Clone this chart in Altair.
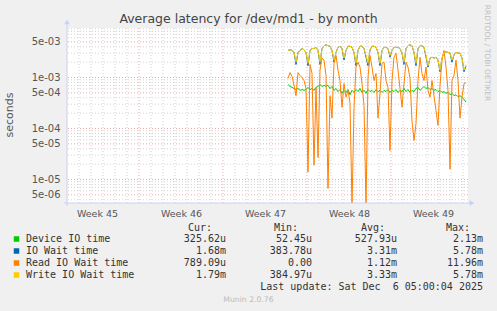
import altair as alt
import pandas as pd

# ---------------- data ----------------
# x = days since Monday 3 Nov 2025 (start of ISO week 45); samples every 4 hours
week_labels = ["Week 45", "Week 46", "Week 47", "Week 48", "Week 49"]
week_centers = [3.5, 10.5, 17.5, 24.5, 31.5]
week_bounds = [7, 14, 21, 28]
day_lines = [2, 3, 4, 5, 6, 8, 9, 10, 11, 12, 13, 15, 16, 17, 18, 19, 20,
             22, 23, 24, 25, 26, 27, 29, 30, 31, 32, 33, 34]
y_ticks = [5e-3, 1e-3, 5e-4, 1e-4, 5e-5, 1e-5, 5e-6]
y_minor = [9e-3, 8e-3, 7e-3, 6e-3, 4e-3, 3e-3, 2e-3,
           9e-4, 8e-4, 7e-4, 6e-4, 4e-4, 3e-4, 2e-4,
           9e-5, 8e-5, 7e-5, 6e-5, 4e-5, 3e-5, 2e-5,
           9e-6, 8e-6, 7e-6, 6e-6, 4e-6]
start_day = 19.42
step_days = 1 / 6

device = [7.3e-4, 6.7e-4, 6.4e-4, 6.1e-4, 5.8e-4, 6.1e-4, 5.6e-4, 5.8e-4, 5.6e-4, 5.8e-4,
          6.4e-4, 5.8e-4, 6.1e-4, 5.6e-4, 6.4e-4, 6.7e-4, 7.3e-4, 6.7e-4, 7.0e-4, 6.7e-4,
          7.0e-4, 6.1e-4, 6.7e-4, 5.6e-4, 6.1e-4, 5.3e-4, 5.8e-4, 4.9e-4, 5.6e-4, 5.1e-4,
          5.8e-4, 4.6e-4, 5.6e-4, 5.1e-4, 5.8e-4, 5.3e-4, 6.1e-4, 5.1e-4, 5.6e-4, 4.9e-4,
          5.8e-4, 5.3e-4, 5.6e-4, 5.1e-4, 5.8e-4, 5.3e-4, 5.6e-4, 5.1e-4, 5.6e-4, 5.3e-4,
          5.8e-4, 5.1e-4, 5.6e-4, 5.3e-4, 5.8e-4, 5.1e-4, 5.6e-4, 5.3e-4, 6.1e-4, 5.3e-4,
          5.8e-4, 5.1e-4, 5.6e-4, 5.3e-4, 6.1e-4, 6.4e-4, 5.6e-4, 6.1e-4, 6.7e-4, 6.1e-4,
          6.4e-4, 5.8e-4, 6.1e-4, 5.6e-4, 5.8e-4, 5.3e-4, 5.6e-4, 5.1e-4, 5.3e-4, 4.9e-4,
          5.1e-4, 4.6e-4, 4.9e-4, 4.4e-4, 4.6e-4, 4.2e-4, 4.4e-4, 4.1e-4, 3.7e-4, 3.3e-4]

iowait = [3.4e-3, 3.5e-3, 3.4e-3, 3.1e-3, 1.8e-3, 3.1e-3, 3.4e-3, 3.7e-3, 3.5e-3, 3.1e-3,
          1.7e-3, 3.4e-3, 3.7e-3, 3.7e-3, 3.9e-3, 3.4e-3, 1.8e-3, 3.7e-3, 4.2e-3, 4.4e-3,
          4.2e-3, 4.1e-3, 3.4e-3, 2.0e-3, 3.1e-3, 3.9e-3, 4.1e-3, 3.7e-3, 2.2e-3, 3.4e-3,
          4.1e-3, 4.1e-3, 3.9e-3, 3.1e-3, 1.7e-3, 3.4e-3, 4.1e-3, 4.1e-3, 3.7e-3, 2.5e-3,
          1.7e-3, 3.5e-3, 4.1e-3, 4.1e-3, 3.9e-3, 3.1e-3, 1.7e-3, 3.4e-3, 3.9e-3, 3.9e-3,
          3.7e-3, 2.5e-3, 3.4e-3, 3.9e-3, 3.9e-3, 3.9e-3, 3.7e-3, 3.0e-3, 1.8e-3, 3.7e-3,
          4.2e-3, 4.4e-3, 4.2e-3, 3.1e-3, 1.7e-3, 3.7e-3, 4.2e-3, 4.2e-3, 3.9e-3, 2.5e-3,
          1.6e-3, 2.4e-3, 2.5e-3, 2.4e-3, 2.5e-3, 2.2e-3, 1.3e-3, 2.4e-3, 3.1e-3, 3.2e-3,
          3.1e-3, 3.0e-3, 2.0e-3, 2.8e-3, 3.1e-3, 3.0e-3, 3.0e-3, 2.4e-3, 1.3e-3, 1.68e-3]

read = [9.6e-4, 1.25e-3, 1.05e-3, 7.0e-4, 4.4e-4, 1.25e-3, 1.1e-3, 1.0e-3, 8.7e-4, 6.1e-4,
        1.4e-5, 1.8e-3, 1.2e-3, 1.9e-5, 6.4e-4, 2.7e-5, 1.4e-3, 2.4e-3, 2.2e-3, 1.1e-3,
        6.7e-6, 4.4e-4, 1.6e-4, 1.9e-3, 2.7e-3, 1.4e-3, 8.7e-4, 2.6e-4, 7.6e-4, 4.1e-4,
        5.6e-4, 3.2e-4, 3.0e-6, 2.6e-4, 1.6e-3, 2.0e-3, 1.6e-3, 7.6e-4, 2.8e-4, 3.0e-6,
        1.0e-3, 2.7e-3, 1.6e-3, 8.7e-4, 1.2e-3, 1.6e-4, 4.9e-4, 1.9e-3, 2.0e-3, 8.7e-4,
        6.4e-4, 3.7e-5, 8.7e-4, 2.5e-3, 3.0e-3, 1.4e-3, 6.1e-4, 2.6e-4, 7.6e-4, 2.0e-3,
        1.6e-3, 9.6e-4, 1.4e-4, 5.8e-5, 1.25e-4, 8.7e-4, 2.5e-3, 1.2e-3, 8.7e-4, 1.6e-3,
        5.6e-4, 4.1e-4, 8.7e-4, 4.4e-4, 2.25e-4, 1.15e-4, 7.0e-4, 2.2e-3, 3.4e-3, 1.6e-3,
        5.6e-4, 1.6e-5, 8.7e-4, 1.1e-3, 2.2e-3, 8.7e-4, 1.6e-4, 4.1e-4, 7.6e-4, 7.9e-4]

write = [3.4e-3, 3.5e-3, 3.4e-3, 3.1e-3, 2.0e-3, 3.1e-3, 3.4e-3, 3.7e-3, 3.5e-3, 3.1e-3,
         1.9e-3, 3.4e-3, 3.7e-3, 3.7e-3, 3.9e-3, 3.4e-3, 2.0e-3, 3.7e-3, 4.2e-3, 4.4e-3,
         4.2e-3, 4.1e-3, 3.4e-3, 2.2e-3, 3.1e-3, 3.9e-3, 4.1e-3, 3.7e-3, 2.4e-3, 3.4e-3,
         4.1e-3, 4.1e-3, 3.9e-3, 3.1e-3, 1.9e-3, 3.4e-3, 4.1e-3, 4.1e-3, 3.7e-3, 2.7e-3,
         1.9e-3, 3.5e-3, 4.1e-3, 4.1e-3, 3.9e-3, 3.1e-3, 1.9e-3, 3.4e-3, 3.9e-3, 3.9e-3,
         3.7e-3, 2.7e-3, 3.4e-3, 3.9e-3, 3.9e-3, 3.9e-3, 3.7e-3, 3.0e-3, 2.0e-3, 3.7e-3,
         4.2e-3, 4.4e-3, 4.2e-3, 3.1e-3, 1.9e-3, 3.7e-3, 4.2e-3, 4.2e-3, 3.9e-3, 2.7e-3,
         1.7e-3, 2.4e-3, 2.5e-3, 2.4e-3, 2.5e-3, 2.2e-3, 1.4e-3, 2.4e-3, 3.1e-3, 3.2e-3,
         3.1e-3, 3.0e-3, 2.2e-3, 2.8e-3, 3.1e-3, 3.0e-3, 3.0e-3, 2.4e-3, 1.4e-3, 1.8e-3]

series_names = ["Device IO time", "IO Wait time", "Read IO Wait time", "Write IO Wait time"]
series_colors = ["#00CC00", "#0066B3", "#FF8000", "#FFCC00"]
cur_vals = ["325.62u", "1.68m", "789.09u", "1.79m"]
min_vals = ["52.45u", "383.78u", "0.00", "384.97u"]
avg_vals = ["527.93u", "3.31m", "1.12m", "3.33m"]
max_vals = ["2.13m", "5.78m", "11.96m", "5.78m"]

title_text = "Average latency for /dev/md1 - by month"
y_title = "seconds"
last_update = "Last update: Sat Dec\u00a0 6 05:00:04 2025"
footer = "Munin 2.0.76"
side_text = "RRDTOOL / TOBI OETIKER"

# ---------------- layout ----------------
W, H = 401, 175
X_DOM = [1.0, 34.42]
Y_DOM = [3.46e-6, 9.35e-3]
AXIS_COL = "#C8D0F4"
MINOR_COL = "#D4D4D4"
MAJOR_COL = "#EBA8A8"
TXT = "#555555"

n = len(device)
df = pd.DataFrame({
    "t": [start_day + i * step_days for i in range(n)],
    "device": device, "iowait": iowait, "read": read, "write": write,
})

x_axis = alt.Axis(values=week_centers,
                  labelExpr="%s[indexof(%s, datum.value)]" % (str(week_labels), str(week_centers)),
                  title=None, grid=False, domain=False, ticks=False, tickSize=0,
                  labelPadding=5, labelFont="DejaVu Sans", labelFontSize=9.5,
                  labelColor=TXT)
y_axis = alt.Axis(values=y_ticks,
                  labelExpr="replace(format(datum.value, '.0e'), 'e-', 'e-0')",
                  title=None, grid=False, domain=False, ticks=False, tickSize=0,
                  labelPadding=7, labelFont="DejaVu Sans", labelFontSize=10,
                  labelColor=TXT)
x_scale = alt.Scale(domain=X_DOM, nice=False, zero=False)
y_scale = alt.Scale(type="log", domain=Y_DOM, nice=False)


def xe(f):
    return alt.X(f"{f}:Q", scale=x_scale, axis=x_axis)


def ye(f):
    return alt.Y(f"{f}:Q", scale=y_scale, axis=y_axis)


layers = []
# grid
layers.append(alt.Chart(pd.DataFrame({"v": y_minor})).mark_rule(
    color=MINOR_COL, strokeDash=[1, 2], strokeWidth=1).encode(y=ye("v")))
layers.append(alt.Chart(pd.DataFrame({"t": day_lines})).mark_rule(
    color=MINOR_COL, strokeDash=[1, 2], strokeWidth=1).encode(x=xe("t")))
layers.append(alt.Chart(pd.DataFrame({"v": y_ticks})).mark_rule(
    color=MAJOR_COL, strokeDash=[1, 2], strokeWidth=1).encode(y=ye("v")))
layers.append(alt.Chart(pd.DataFrame({"t": week_bounds})).mark_rule(
    color=MAJOR_COL, strokeDash=[1, 2], strokeWidth=1).encode(x=xe("t")))

# series (drawn in munin order)
for col, color in zip(["device", "iowait", "read", "write"], series_colors):
    layers.append(alt.Chart(df).mark_line(color=color, strokeWidth=1, clip=True)
                  .encode(x=xe("t"), y=ye(col)))

one = pd.DataFrame({"a": [0]})
# axis lines + arrows
layers.append(alt.Chart(one).mark_rule(color=AXIS_COL, strokeWidth=1).encode(
    x=alt.value(0), y=alt.value(-4), y2=alt.value(H + 3)))
layers.append(alt.Chart(one).mark_rule(color=AXIS_COL, strokeWidth=1).encode(
    x=alt.value(-3), x2=alt.value(W + 3), y=alt.value(H)))
layers.append(alt.Chart(one).mark_point(shape="triangle-up", filled=True, color=AXIS_COL,
                                        size=30, opacity=1).encode(
    x=alt.value(0), y=alt.value(-6)))
layers.append(alt.Chart(one).mark_point(shape="triangle-right", filled=True, color=AXIS_COL,
                                        size=30, opacity=1).encode(
    x=alt.value(W + 4), y=alt.value(H)))


def txt(s, x, y, size=10, font="DejaVu Sans", color=TXT, align="left", angle=0,
        baseline="middle"):
    return alt.Chart(one).mark_text(text=s, font=font, fontSize=size, color=color,
                                    align=align, baseline=baseline, angle=angle).encode(
        x=alt.value(x), y=alt.value(y))


layers.append(txt(title_text, 181.5, -9, size=12.5, color="#444444", align="center"))
layers.append(txt(y_title, -57, 87, size=11, align="center", angle=270))
layers.append(txt(side_text, 420, 25, size=7.5, color="#C0C0C0", align="center", angle=90))

MONO = "DejaVu Sans Mono"
LEG = "#333333"
for hdr, xr in zip(["Cur:", "Min:", "Avg:", "Max:"], [145, 231, 318, 403]):
    layers.append(txt(hdr, xr, 200, font=MONO, color=LEG, align="right"))
row_y = [211, 223, 235, 247]
for i in range(4):
    layers.append(alt.Chart(one).mark_square(color=series_colors[i], size=30, opacity=1)
                  .encode(x=alt.value(-50.5), y=alt.value(row_y[i])))
    layers.append(txt(series_names[i], -41, row_y[i], font=MONO, color=LEG))
    for vals, xr in zip([cur_vals, min_vals, avg_vals, max_vals], [159, 245, 330, 416]):
        layers.append(txt(vals[i], xr, row_y[i], font=MONO, color=LEG, align="right"))
layers.append(txt(last_update, 416, 259, font=MONO, color=LEG, align="right"))
layers.append(txt(footer, 181.5, 272, size=7.7, color="#BBBBBB", align="center"))

chart = alt.layer(*layers).properties(
    width=W, height=H,
    padding={"left": 67, "top": 28, "right": 29, "bottom": 108},
    autosize=alt.AutoSizeParams(type="none"),
    background="#F0F0F0",
).configure_view(fill="white", stroke=None)

chart.save("out.html", embed_options={"renderer": "svg", "actions": False})
